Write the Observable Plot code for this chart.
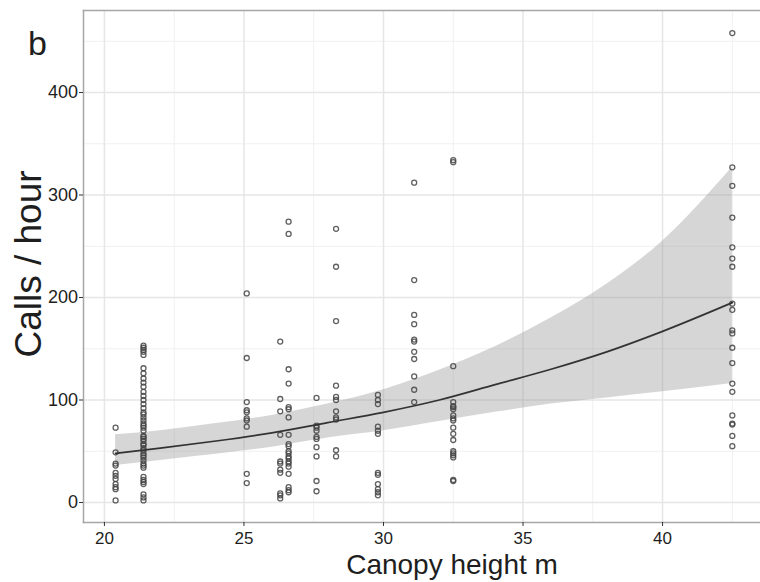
<!DOCTYPE html>
<html>
<head>
<meta charset="utf-8">
<script src="https://cdn.jsdelivr.net/npm/d3@7"></script>
<script src="https://cdn.jsdelivr.net/npm/@observablehq/plot@0.6"></script>
<style>
  html, body { margin: 0; padding: 0; background: #fff; }
  #wrap { position: relative; width: 760px; height: 582px; overflow: hidden; font-family: "Liberation Sans", Arial, sans-serif; color: #1e1e1e; }
  .lbl { position: absolute; white-space: nowrap; line-height: 1; }
</style>
</head>
<body>
<div id="wrap">
  <div class="lbl" id="panel" style="left:28px; top:26px; font-size:34px;">b</div>
  <div class="lbl" id="ytitle" style="left:28px; top:264px; font-size:37px; transform: translate(-50%,-50%) rotate(-90deg);">Calls / hour</div>
  <div class="lbl" id="xtitle" style="left:452px; top:551px; font-size:28px; transform: translateX(-50%);">Canopy height m</div>
</div>
<script>
// Canopy height of each sampled site (m)
const canopy = [20.4, 21.4, 25.1, 26.3, 26.6, 27.6, 28.3, 29.8, 31.1, 32.5, 42.5];
// Calls per hour recorded at each site (one list per canopy height above)
const calls = [
  [73, 49, 38, 36, 29, 26, 23, 18, 15, 13, 2],
  [153, 151, 149, 147, 144, 131, 126, 121, 117, 113, 108, 104, 100, 96, 92, 88, 86, 83, 80, 77, 75, 73, 70, 65, 64, 62, 60, 57, 56, 53, 51, 48, 46, 44, 41, 38, 36, 34, 25, 22, 20, 18, 8, 5, 2],
  [204, 141, 98, 90, 88, 82, 80, 74, 28, 19],
  [157, 101, 89, 66, 40, 38, 32, 29, 9, 7, 4],
  [274, 262, 130, 116, 93, 91, 83, 66, 57, 55, 50, 48, 45, 43, 40, 38, 35, 28, 15, 12, 10],
  [102, 75, 73, 70, 64, 62, 54, 45, 21, 11],
  [267, 230, 177, 114, 103, 100, 89, 83, 81, 51, 45],
  [105, 100, 96, 74, 70, 67, 29, 27, 18, 13, 10, 7],
  [312, 217, 183, 174, 159, 157, 147, 140, 123, 110, 98],
  [334, 332, 133, 98, 94, 93, 91, 85, 82, 80, 73, 67, 61, 50, 48, 46, 44, 22, 21],
  [458, 327, 309, 278, 249, 238, 230, 194, 188, 168, 165, 151, 136, 116, 108, 85, 77, 76, 65, 55]
];
// Fitted curve and its confidence band
const fitX  = [20.4, 22, 24, 26, 28, 30, 32, 34, 36, 38, 40, 42.5];
const fitY  = [48, 53, 60, 68, 78, 88, 100, 115, 130, 147, 167, 195];
const fitLo = [36, 41, 47, 54, 63, 70, 79, 88, 96, 102, 108, 116];
const fitHi = [66, 70, 77, 85, 96, 110, 129, 152, 180, 213, 255, 327];
// Axis ticks
const xTicks = [20, 25, 30, 35, 40];
const xMinor = [22.5, 27.5, 32.5, 37.5, 42.5];
const yTicks = [0, 100, 200, 300, 400];
const yMinor = [50, 150, 250, 350, 450];
const xDomain = [19.25, 43.51];
const yDomain = [-19.5, 480];

const points = canopy.flatMap((h, i) => calls[i].map(c => ({h, c})));
const fit = fitX.map((x, i) => ({x, y: fitY[i], lo: fitLo[i], hi: fitHi[i]}));

const chart = Plot.plot({
  width: 760,
  height: 582,
  marginLeft: 83,
  marginRight: 0,
  marginTop: 10,
  marginBottom: 60,
  style: {fontFamily: "Liberation Sans, Arial, sans-serif", fontSize: "17px", color: "#1e1e1e", background: "transparent"},
  x: {domain: xDomain},
  y: {domain: yDomain},
  marks: [
    Plot.gridX(xMinor, {stroke: "#f0f0f0", strokeOpacity: 1, strokeWidth: 1}),
    Plot.gridY(yMinor, {stroke: "#f0f0f0", strokeOpacity: 1, strokeWidth: 1}),
    Plot.gridX(xTicks, {stroke: "#e6e6e6", strokeOpacity: 1, strokeWidth: 1.5}),
    Plot.gridY(yTicks, {stroke: "#e6e6e6", strokeOpacity: 1, strokeWidth: 1.5}),
    Plot.areaY(fit, {x: "x", y1: "lo", y2: "hi", fill: "#999999", fillOpacity: 0.4, curve: "monotone-x"}),
    Plot.dot(points, {x: "h", y: "c", r: 2.5, stroke: "#444", strokeOpacity: 0.85, strokeWidth: 1.3, fill: "none"}),
    Plot.line(fit, {x: "x", y: "y", stroke: "#333", strokeWidth: 1.7, curve: "monotone-x"}),
    Plot.frame({anchor: "left", stroke: "#a6a6a6", strokeWidth: 1.5}),
    Plot.frame({anchor: "top", stroke: "#a6a6a6", strokeWidth: 1.5}),
    Plot.frame({anchor: "bottom", stroke: "#a6a6a6", strokeWidth: 1.5}),
    Plot.axisX(xTicks, {tickSize: 4, tickPadding: 5, stroke: "#333", label: null, fontSize: 17}),
    Plot.axisY(yTicks, {tickSize: 4, tickPadding: 1.5, stroke: "#333", label: null, fontSize: 18})
  ]
});
chart.style.position = "absolute";
chart.style.left = "0px";
chart.style.top = "0px";
document.getElementById("wrap").prepend(chart);
</script>
</body>
</html>
